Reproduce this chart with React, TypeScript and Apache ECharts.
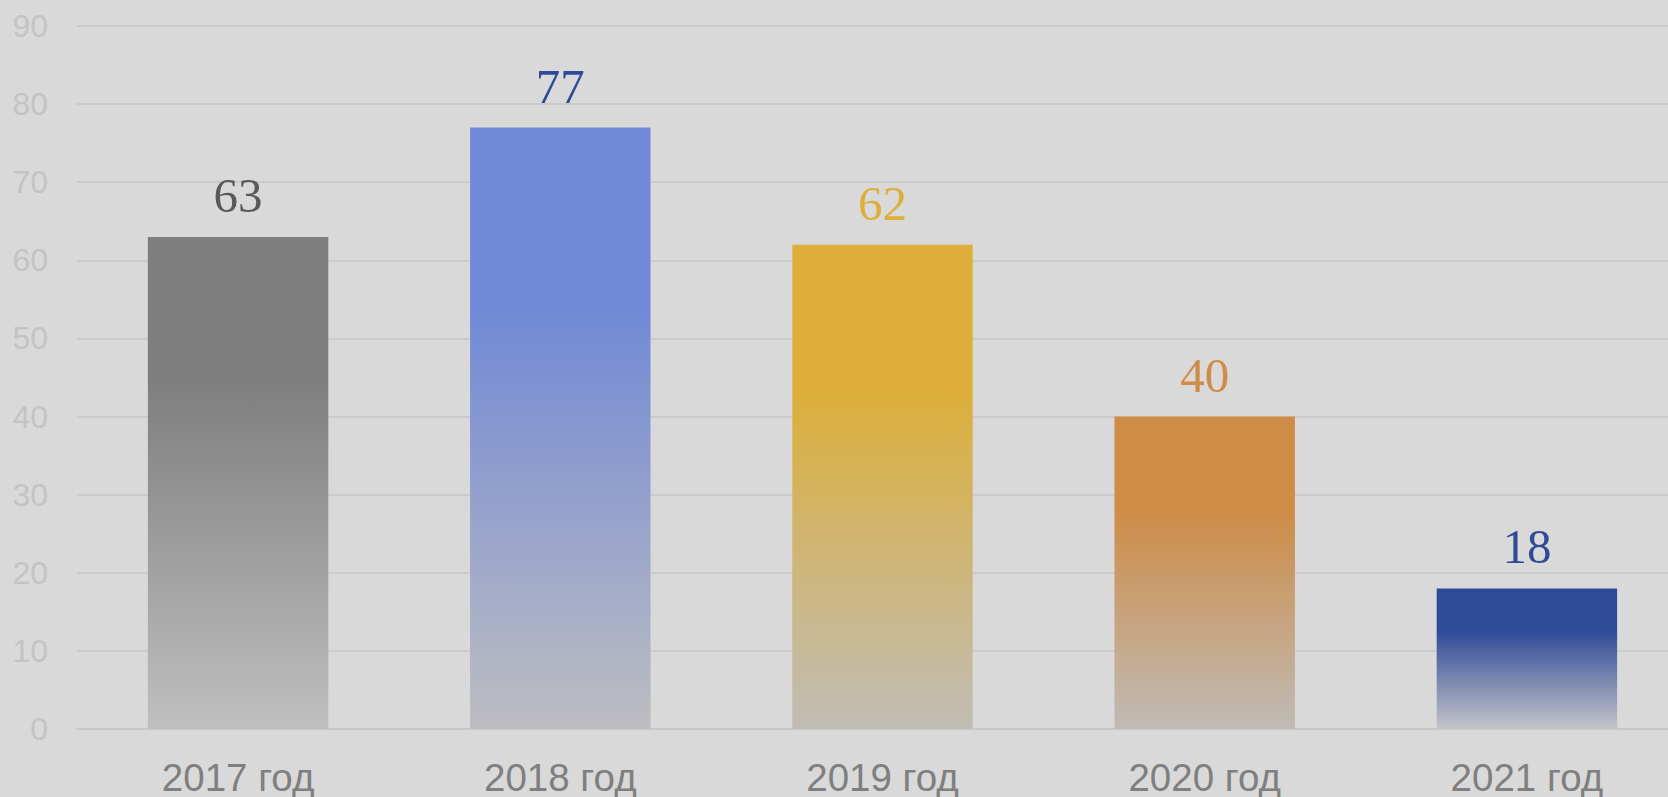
import React, { useEffect, useRef } from "react";
import * as echarts from "echarts";

const categories = ["2017 год", "2018 год", "2019 год", "2020 год", "2021 год"];
const values = [63, 77, 62, 40, 18];
const topColors = ["#7f7f7f", "#7189d6", "#ddaf3a", "#ce8c46", "#2e4a98"];
const bottomColors = ["#bfbfbf", "#bdbdc0", "#c0bdb5", "#bfbbb6", "#c4c4c8"];
const labelColors = ["#595959", "#2f4a97", "#ddaf3a", "#ce8c46", "#2f4a97"];
const yTicks = [0, 10, 20, 30, 40, 50, 60, 70, 80, 90];

export default function App() {
  const ref = useRef<HTMLDivElement>(null);
  useEffect(() => {
    if (!ref.current) return;
    const chart = echarts.init(ref.current, null, { renderer: "svg" });
    chart.setOption({
      animation: false,
      backgroundColor: "#d9d9d9",
      grid: { left: 77, right: 2, top: 26, bottom: 68, containLabel: false },
      xAxis: {
        type: "category",
        data: categories,
        axisTick: { show: false },
        axisLine: { show: true, lineStyle: { color: "#c6c6c6", width: 1.5 } },
        axisLabel: {
          color: "#7f7f7f",
          fontSize: 38.5,
          fontFamily: "Liberation Sans, Arial, sans-serif",
          margin: 29,
        },
      },
      yAxis: {
        type: "value",
        min: yTicks[0],
        max: yTicks[yTicks.length - 1],
        interval: 10,
        axisLine: { show: false },
        axisTick: { show: false },
        splitLine: { lineStyle: { color: "#c6c6c6", width: 1.5 } },
        axisLabel: {
          color: "#c3c3c3",
          fontSize: 32,
          fontFamily: "Liberation Sans, Arial, sans-serif",
          margin: 29,
        },
      },
      series: [
        {
          type: "bar",
          barWidth: "56%",
          data: values.map((v, i) => ({
            value: v,
            itemStyle: {
              color: new echarts.graphic.LinearGradient(0, 0, 0, 1, [
                { offset: 0, color: topColors[i] },
                { offset: 0.3, color: topColors[i] },
                { offset: 1, color: bottomColors[i] },
              ]),
            },
            label: { color: labelColors[i] },
          })),
          label: {
            show: true,
            position: "top",
            distance: 17,
            fontSize: 49,
            fontFamily: "Liberation Serif, Times New Roman, serif",
          },
        },
      ],
    });
    return () => chart.dispose();
  }, []);
  return (
    <div
      style={{
        position: "absolute",
        left: 0,
        top: 0,
        width: 1668,
        height: 797,
        overflow: "hidden",
        background: "#d9d9d9",
      }}
    >
      <div ref={ref} style={{ width: 1690, height: 797 }} />
    </div>
  );
}
